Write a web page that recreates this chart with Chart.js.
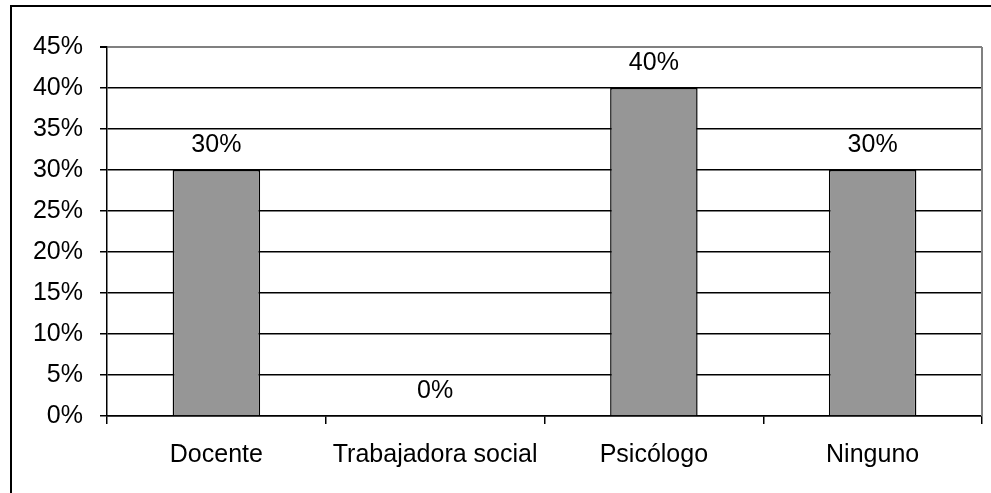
<!DOCTYPE html>
<html>
<head>
<meta charset="utf-8">
<script src="https://cdn.jsdelivr.net/npm/chart.js@4"></script>
<style>
  html, body { margin: 0; padding: 0; background: #fff; }
  #wrap { width: 991px; height: 493px; }
</style>
</head>
<body>
<div id="wrap"><canvas id="grafico" width="991" height="493"></canvas></div>
<script>
// datos del grafico
const categorias = ['Docente', 'Trabajadora social', 'Psicólogo', 'Ninguno'];
const porcentajes = [30, 0, 40, 30];
const ticksY = [0, 5, 10, 15, 20, 25, 30, 35, 40, 45];

const fuente = { family: "'Liberation Sans', Arial, sans-serif", size: 25 };

// marco exterior, borde derecho gris y etiquetas sobre las barras
const extras = {
    id: 'extras',
    afterDatasetsDraw(chart) {
        const c = chart.ctx;
        const area = chart.chartArea;
        c.save();
        c.strokeStyle = '#808080';
        c.lineWidth = 2;
        c.beginPath();
        c.moveTo(area.right, area.top);
        c.lineTo(area.right, area.bottom);
        c.stroke();

        c.fillStyle = '#000';
        c.font = fuente.size + 'px ' + fuente.family;
        c.textAlign = 'center';
        c.textBaseline = 'alphabetic';
        chart.getDatasetMeta(0).data.forEach((bar, i) => {
            c.fillText(porcentajes[i] + '%', bar.x, bar.y - 18);
        });
        c.restore();
    },
    afterDraw(chart) {
        const c = chart.ctx;
        c.save();
        c.strokeStyle = '#000';
        c.lineWidth = 2;
        c.strokeRect(11, 6, 3000, 3000);
        c.restore();
    }
};

const ctx = document.getElementById('grafico').getContext('2d');
const grafico = new Chart(ctx, {
    type: 'bar',
    data: {
        labels: categorias,
        datasets: [{
            data: porcentajes,
            backgroundColor: '#969696',
            borderColor: '#000',
            borderWidth: 1.5,
            categoryPercentage: 0.4,
            barPercentage: 1
        }]
    },
    options: {
        responsive: false,
        animation: false,
        layout: { padding: { left: 0, right: 9, top: 47, bottom: 0 } },
        plugins: {
            legend: { display: false },
            tooltip: { enabled: false }
        },
        scales: {
            x: {
                afterFit: s => { s.height = 77; },
                grid: {
                    offset: true,
                    drawOnChartArea: false,
                    tickLength: 8,
                    color: '#000',
                    lineWidth: 1.5
                },
                border: { color: '#000', width: 1.5 },
                ticks: { color: '#000', font: fuente, padding: 16 }
            },
            y: {
                min: 0,
                max: 45,
                afterFit: s => { s.width = 107; },
                afterBuildTicks: s => { s.ticks = ticksY.map(v => ({ value: v })); },
                grid: {
                    color: c => (c.tick && c.tick.value === 45) ? '#808080' : '#000',
                    lineWidth: c => (c.tick && c.tick.value === 45) ? 2 : 1.5,
                    tickColor: '#000',
                    tickLength: 7
                },
                border: { color: '#000', width: 1.5 },
                ticks: {
                    color: '#000',
                    font: fuente,
                    padding: 17,
                    callback: v => v + '%'
                }
            }
        }
    },
    plugins: [extras]
});
</script>
</body>
</html>
